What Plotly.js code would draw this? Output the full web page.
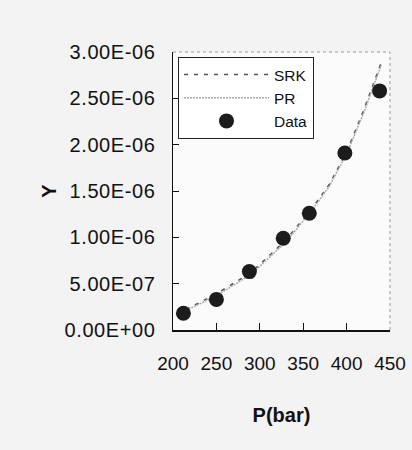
<!DOCTYPE html>
<html>
<head>
<meta charset="utf-8">
<script src="https://cdn.plot.ly/plotly-3.0.1.min.js"></script>
<style>
html,body{margin:0;padding:0;background:#f3f3f3;}
.ytick text{letter-spacing:0.6px;}
</style>
</head>
<body>
<div id="chart" style="width:412px;height:450px;"></div>
<script>
// Data
var pressure = [212, 250, 288, 327, 357, 398, 438];
var dataY = [0.18e-6, 0.33e-6, 0.63e-6, 0.99e-6, 1.26e-6, 1.91e-6, 2.58e-6];

var modelP = [215, 250, 290, 330, 360, 380, 400, 420, 440];
var srkY = [0.22e-6, 0.39e-6, 0.62e-6, 0.97e-6, 1.31e-6, 1.57e-6, 1.92e-6, 2.38e-6, 2.89e-6];
var prY  = [0.21e-6, 0.37e-6, 0.60e-6, 0.95e-6, 1.29e-6, 1.55e-6, 1.90e-6, 2.35e-6, 2.86e-6];

var yTickVals = [0, 0.5e-6, 1.0e-6, 1.5e-6, 2.0e-6, 2.5e-6, 3.0e-6];
var yTickText = ["0.00E+00", "5.00E-07", "1.00E-06", "1.50E-06", "2.00E-06", "2.50E-06", "3.00E-06"];
var xTickVals = [200, 250, 300, 350, 400, 450];

var font = "Liberation Sans, Arial, sans-serif";

var traces = [
  {x: modelP, y: srkY, name: "SRK", mode: "lines",
   line: {color: "#555", width: 1.5, dash: "4px,6px"}},
  {x: modelP, y: prY, name: "PR", mode: "lines",
   line: {color: "#aaa", width: 1.5, dash: "2px,1px"}},
  {x: pressure, y: dataY, name: "Data", mode: "markers",
   marker: {color: "#1c1c1c", size: 15}}
];

var layout = {
  width: 412, height: 450,
  margin: {l: 173, r: 22, t: 52, b: 120},
  paper_bgcolor: "#f3f3f3",
  plot_bgcolor: "#fbfbfb",
  font: {family: font, color: "#111", size: 19},
  showlegend: true,
  legend: {x: 0.023, y: 0.982, xanchor: "left", yanchor: "top",
           bgcolor: "#ffffff", bordercolor: "#222", borderwidth: 1,
           font: {family: font, size: 15.5, color: "#111"},
           itemwidth: 85, tracegroupgap: 0},
  xaxis: {range: [200, 450], tickvals: xTickVals, showgrid: false, zeroline: false,
          showline: true, linecolor: "#111", linewidth: 1.5,
          ticks: "inside", ticklen: 7, tickcolor: "#111",
          tickfont: {family: font, size: 19},
          ticklabelstandoff: 16,
          title: {text: "<b>P(bar)</b>", font: {family: font, size: 20}, standoff: 34}},
  yaxis: {range: [0, 3e-6], tickvals: yTickVals, ticktext: yTickText, showgrid: false, zeroline: false,
          showline: true, linecolor: "#111", linewidth: 1.5,
          ticks: "inside", ticklen: 6, tickcolor: "#111",
          tickfont: {family: font, size: 20},
          ticklabelstandoff: 12,
          title: {text: "<b>Y</b>", font: {family: font, size: 20}, standoff: 2}},
  shapes: [
    {type: "line", xref: "paper", yref: "paper", x0: 0, x1: 1, y0: 1, y1: 1,
     line: {color: "#bbb", width: 1.5, dash: "dot"}, layer: "below"},
    {type: "line", xref: "paper", yref: "paper", x0: 1, x1: 1, y0: 0, y1: 1,
     line: {color: "#bbb", width: 1.5, dash: "dot"}, layer: "below"}
  ]
};

Plotly.newPlot("chart", traces, layout, {displayModeBar: false, staticPlot: true});
</script>
</body>
</html>
